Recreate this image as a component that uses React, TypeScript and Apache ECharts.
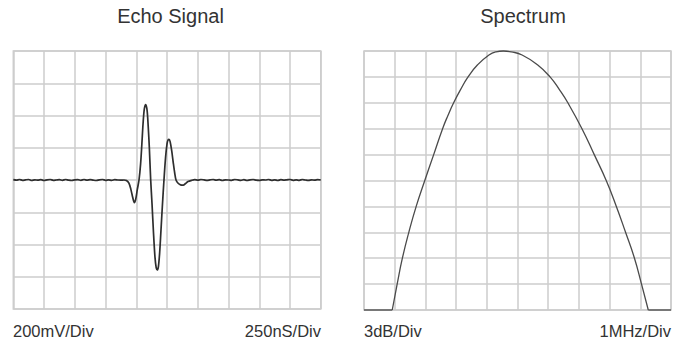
import React, { useEffect, useRef } from "react";
import * as echarts from "echarts";

// Echo signal: [time ns, amplitude mV], 250 ns/div, 200 mV/div
const echoSignal: [number, number][] = [
  [0, 2], [25, -1], [50, 3], [75, -2], [100, 1], [125, 3], [150, -3], [175, 1], [200, -1],
  [225, 2], [250, -3], [275, 1], [300, 3], [325, -2], [350, 0], [375, 2], [400, -2], [425, 3],
  [450, -1], [475, -3], [500, 1], [525, 2], [550, -2], [575, 3], [600, -1], [625, 2], [650, -1],
  [675, -3], [700, 1], [725, 3], [750, -2], [775, 1], [800, -2], [825, 2], [850, 0], [875, -1],
  [900, 0], [920, -3], [940, -20], [955, -55], [970, -105], [984, -140], [995, -120], [1008, -60],
  [1022, 0], [1035, 100], [1045, 220], [1055, 350], [1065, 440], [1077, 468], [1088, 430],
  [1097, 330], [1106, 200], [1117, 0], [1128, -150], [1140, -330], [1152, -480], [1162, -545],
  [1171, -558], [1180, -535], [1190, -450], [1200, -320], [1212, -160], [1225, 0], [1238, 140],
  [1250, 225], [1258, 248], [1266, 252], [1275, 238], [1288, 180], [1300, 110], [1312, 45],
  [1323, 0], [1340, -20], [1360, -30], [1382, -32], [1400, -22], [1420, -10], [1450, -2],
  [1475, 2], [1500, -1], [1525, 3], [1550, 1], [1575, -2], [1600, 1], [1625, 3], [1650, -1],
  [1675, 2], [1700, -3], [1725, 1], [1750, 0], [1775, -2], [1800, 3], [1825, 1], [1850, -2],
  [1875, 2], [1900, -3], [1925, 1], [1950, 3], [1975, -1], [2000, -2], [2025, 1], [2050, 0],
  [2075, 3], [2100, -2], [2125, 1], [2150, -3], [2175, 2], [2200, -1], [2225, 1], [2250, 3],
  [2275, -2], [2300, 1], [2325, -2], [2350, 3], [2375, 0], [2400, -2], [2425, 1], [2450, -1],
  [2475, 2], [2500, 0],
];

// Spectrum: [frequency MHz, level dB], 1 MHz/div, 3 dB/div
const spectrumFloorLeft: [number, number][] = [[0, -30], [0.92, -30]];
const spectrumCurve: [number, number][] = [
  [0.92, -30], [1.08, -27], [1.25, -24], [1.46, -21], [1.7, -18], [1.98, -15], [2.27, -12],
  [2.56, -9], [2.73, -7.5], [2.92, -6], [3.14, -4.5], [3.39, -3], [3.7, -1.6], [4.07, -0.46],
  [4.3, -0.1], [4.54, 0], [4.8, -0.1], [5.15, -0.46], [5.65, -1.6], [6.06, -3], [6.37, -4.5],
  [6.64, -6], [7.1, -9], [7.5, -12], [7.89, -15], [8.22, -18], [8.52, -21], [8.81, -24],
  [9.04, -27], [9.26, -30],
];
const spectrumFloorRight: [number, number][] = [[9.26, -30], [10, -30]];

const titles = ["Echo Signal", "Spectrum"];
const scaleLabels = ["200mV/Div", "250nS/Div", "3dB/Div", "1MHz/Div"];

const FONT = "'Liberation Sans', Arial, Helvetica, sans-serif";
const GRID_COLOR = "#cdcdcd";

export default function App() {
  const ref = useRef<HTMLDivElement>(null);
  useEffect(() => {
    if (!ref.current) return;
    const chart = echarts.init(ref.current, undefined, { renderer: "svg" });
    const axisCommon = {
      axisLabel: { show: false },
      axisTick: { show: false },
      axisLine: { show: false },
      splitLine: { show: true, lineStyle: { color: GRID_COLOR, width: 1.5 } },
    };
    const gridCommon = {
      show: true,
      borderColor: GRID_COLOR,
      borderWidth: 1.5,
      backgroundColor: "transparent",
      containLabel: false,
    };
    const textStyle = (size: number) => ({
      fill: "#333",
      font: `${size}px ${FONT}`,
      textVerticalAlign: "middle",
    });
    chart.setOption({
      animation: false,
      grid: [
        { ...gridCommon, left: 13.3, top: 51, width: 307.5, height: 258 },
        { ...gridCommon, left: 364, top: 51, width: 307, height: 259 },
      ],
      xAxis: [
        { type: "value", gridIndex: 0, min: 0, max: 2500, interval: 250, ...axisCommon },
        { type: "value", gridIndex: 1, min: 0, max: 10, interval: 1, ...axisCommon },
      ],
      yAxis: [
        { type: "value", gridIndex: 0, min: -800, max: 800, interval: 200, ...axisCommon },
        { type: "value", gridIndex: 1, min: -30, max: 0, interval: 3, ...axisCommon },
      ],
      series: [
        {
          type: "line",
          xAxisIndex: 0,
          yAxisIndex: 0,
          data: echoSignal,
          smooth: 0.3,
          showSymbol: false,
          lineStyle: { color: "#2e2e2e", width: 1.7 },
        },
        {
          type: "line",
          xAxisIndex: 1,
          yAxisIndex: 1,
          data: spectrumFloorLeft,
          showSymbol: false,
          clip: false,
          lineStyle: { color: "#4a4a4a", width: 1.3 },
        },
        {
          type: "line",
          xAxisIndex: 1,
          yAxisIndex: 1,
          data: spectrumCurve,
          smooth: 0.5,
          showSymbol: false,
          clip: false,
          lineStyle: { color: "#4a4a4a", width: 1.3 },
        },
        {
          type: "line",
          xAxisIndex: 1,
          yAxisIndex: 1,
          data: spectrumFloorRight,
          showSymbol: false,
          clip: false,
          lineStyle: { color: "#4a4a4a", width: 1.3 },
        },
      ],
      graphic: [
        { type: "text", x: 170.5, y: 16, style: { ...textStyle(20), text: titles[0], textAlign: "center" } },
        { type: "text", x: 523, y: 16, style: { ...textStyle(20), text: titles[1], textAlign: "center" } },
        { type: "text", x: 13, y: 331, style: { ...textStyle(16.5), text: scaleLabels[0], textAlign: "left" } },
        { type: "text", x: 321, y: 331, style: { ...textStyle(16.5), text: scaleLabels[1], textAlign: "right" } },
        { type: "text", x: 364, y: 331, style: { ...textStyle(16.5), text: scaleLabels[2], textAlign: "left" } },
        { type: "text", x: 671, y: 331, style: { ...textStyle(16.5), text: scaleLabels[3], textAlign: "right" } },
      ],
    });
    return () => chart.dispose();
  }, []);
  return (
    <div
      ref={ref}
      style={{ position: "absolute", left: 0, top: 0, width: 680, height: 344, background: "#fff" }}
    />
  );
}
